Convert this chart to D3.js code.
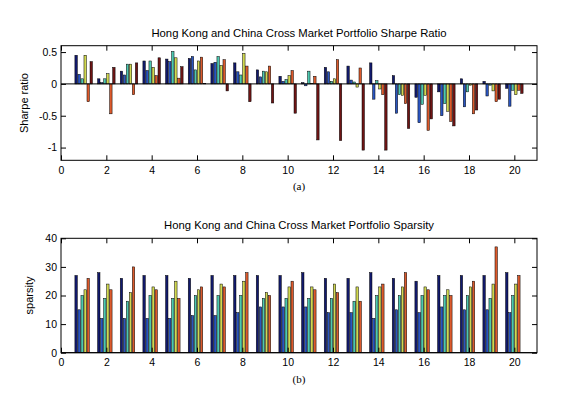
<!DOCTYPE html>
<html>
<head>
<meta charset="utf-8">
<script src="https://cdn.jsdelivr.net/npm/d3@7"></script>
<style>
  body { margin: 0; background: #fff; }
  text { font-family: "Liberation Sans", Arial, sans-serif; }
</style>
</head>
<body>
<script>
// trading periods 1..20, six portfolio methods per period
const periods = d3.range(1, 21);
const seriesColors = ["#121a6e", "#2a55c0", "#4cc8b0", "#d0d850", "#dc5a2c", "#6e1414"];
const xTicks = [0, 2, 4, 6, 8, 10, 12, 14, 16, 18, 20];

const sharpeTicks = [-1, -0.5, 0, 0.5];
const sharpeRatio = [
  [0.45, 0.08, 0.20, 0.36, 0.39, 0.40, 0.32, 0.33, 0.22, 0.12, 0.02, 0.26, 0.28, 0.33, 0.13, -0.21, -0.125, 0.08, 0.04, -0.07],
  [0.15, 0.02, 0.14, 0.21, 0.35, 0.43, 0.34, 0.19, 0.11, 0.04, -0.03, 0.19, 0.06, -0.24, -0.46, -0.61, -0.50, -0.36, -0.19, -0.35],
  [0.08, 0.08, 0.31, 0.36, 0.51, 0.22, 0.43, 0.14, 0.20, 0.07, 0.20, 0.04, 0.03, 0.05, -0.17, -0.32, -0.31, -0.125, -0.02, -0.10],
  [0.45, 0.16, 0.31, 0.26, 0.41, 0.36, 0.29, 0.48, 0.19, 0.13, 0.01, 0.08, -0.05, -0.08, -0.18, -0.18, -0.43, -0.02, -0.11, -0.17],
  [-0.28, -0.47, -0.17, 0.13, 0.09, 0.42, 0.38, 0.28, 0.28, 0.21, 0.12, 0.38, 0.25, -0.17, -0.31, -0.73, -0.59, -0.47, -0.28, -0.10],
  [0.35, 0.26, 0.33, 0.41, 0.27, 0.01, -0.11, -0.28, -0.30, -0.46, -0.88, -0.89, -1.04, -1.04, -0.70, -0.55, -0.66, -0.41, -0.24, -0.15]
];

const sparsityTicks = [0, 10, 20, 30, 40];
const sparsity = [
  [27, 28, 26, 27, 27, 26, 27, 27, 27, 27, 28, 26, 26, 28, 26, 25, 27, 27, 27, 28],
  [15, 12, 12, 12, 12, 13, 13, 14, 16, 16, 16, 14, 14, 12, 15, 14, 16, 15, 15, 14],
  [20, 19, 18, 20, 19, 20, 20, 20, 19, 19, 19, 19, 18, 20, 20, 20, 20, 20, 19, 20],
  [22, 24, 21, 23, 25, 22, 24, 25, 21, 23, 23, 24, 23, 23, 23, 23, 22, 23, 24, 24],
  [26, 22, 30, 22, 19, 23, 23, 28, 20, 25, 22, 21, 18, 24, 28, 22, 20, 25, 37, 27],
  [0, 0, 0, 0, 0, 0, 0, 0, 0, 0, 0, 0, 0, 0, 0, 0, 0, 0, 0, 0]
];

const svg = d3.select("body").append("svg")
    .attr("width", 563)
    .attr("height", 400);

function drawPanel(opt) {
    let x = d3.scaleLinear().domain([0, 21]).range([61, 537]);
    let y = d3.scaleLinear().domain(opt.yDomain).range([opt.bottom, opt.top]);
    // slot of each method inside a period, in x units (matlab grouped bar)
    let inner = d3.scaleBand().domain(d3.range(opt.values.length))
        .range([-0.4, 0.4]).paddingInner(0.2).paddingOuter(0.1);

    let g = svg.append("g");

    opt.values.forEach(function (vals, s) {
        g.selectAll(null).data(vals).enter().append("rect")
            .attr("x", (d, i) => x(periods[i] + inner(s)))
            .attr("width", x(inner.bandwidth()) - x(0))
            .attr("y", d => y(Math.max(d, 0)))
            .attr("height", d => Math.abs(y(d) - y(0)))
            .attr("fill", seriesColors[s])
            .attr("stroke", "#000")
            .attr("stroke-width", 0.5);
    });

    // baseline
    g.append("line")
        .attr("x1", x(0)).attr("x2", x(21))
        .attr("y1", y(0)).attr("y2", y(0))
        .attr("stroke", "#000").attr("stroke-width", 1);

    let bottomAxis = g.append("g")
        .attr("transform", "translate(0," + opt.bottom + ")")
        .call(d3.axisBottom(x).tickValues(xTicks).tickSize(-5).tickSizeOuter(0).tickPadding(6));
    let topAxis = g.append("g")
        .attr("transform", "translate(0," + opt.top + ")")
        .call(d3.axisTop(x).tickValues(xTicks).tickSize(-5).tickSizeOuter(0).tickFormat(""));
    let leftAxis = g.append("g")
        .attr("transform", "translate(" + x(0) + ",0)")
        .call(d3.axisLeft(y).tickValues(opt.yTicks).tickSize(-5).tickSizeOuter(0).tickPadding(4)
            .tickFormat(d => String(d)));
    let rightAxis = g.append("g")
        .attr("transform", "translate(" + x(21) + ",0)")
        .call(d3.axisRight(y).tickValues(opt.yTicks).tickSize(-5).tickSizeOuter(0).tickFormat(""));

    [bottomAxis, topAxis, leftAxis, rightAxis].forEach(function (a) {
        a.select(".domain").remove();
        a.selectAll("line").attr("stroke", "#000");
        a.selectAll("text").attr("fill", "#000").style("font-size", "10.5px")
            .style("font-family", "'Liberation Sans', Arial, sans-serif");
    });

    g.append("rect")
        .attr("x", x(0)).attr("y", opt.top)
        .attr("width", x(21) - x(0)).attr("height", opt.bottom - opt.top)
        .attr("fill", "none").attr("stroke", "#000").attr("stroke-width", 1);

    g.append("text")
        .attr("x", (x(0) + x(21)) / 2).attr("y", opt.top - 9)
        .attr("text-anchor", "middle")
        .style("font-size", "11.3px")
        .text(opt.title);

    g.append("text")
        .attr("transform", "translate(" + opt.labelX + "," + (opt.top + opt.bottom) / 2 + ") rotate(-90)")
        .attr("text-anchor", "middle")
        .style("font-size", "11px")
        .text(opt.yLabel);

    g.append("text")
        .attr("x", (x(0) + x(21)) / 2).attr("y", opt.bottom + 30)
        .attr("text-anchor", "middle")
        .style("font-family", "'Liberation Serif', 'Times New Roman', serif")
        .style("font-size", "11px")
        .text(opt.caption);
}

drawPanel({
    values: sharpeRatio, yDomain: [-1.2, 0.6], yTicks: sharpeTicks,
    top: 45.7, bottom: 160.3, labelX: 28,
    title: "Hong Kong and China Cross Market Portfolio Sharpe Ratio",
    yLabel: "Sharpe ratio", caption: "(a)"
});

drawPanel({
    values: sparsity, yDomain: [0, 40], yTicks: sparsityTicks,
    top: 238.3, bottom: 352.7, labelX: 33,
    title: "Hong Kong and China Cross Market Portfolio Sparsity",
    yLabel: "sparsity", caption: "(b)"
});
</script>
</body>
</html>
